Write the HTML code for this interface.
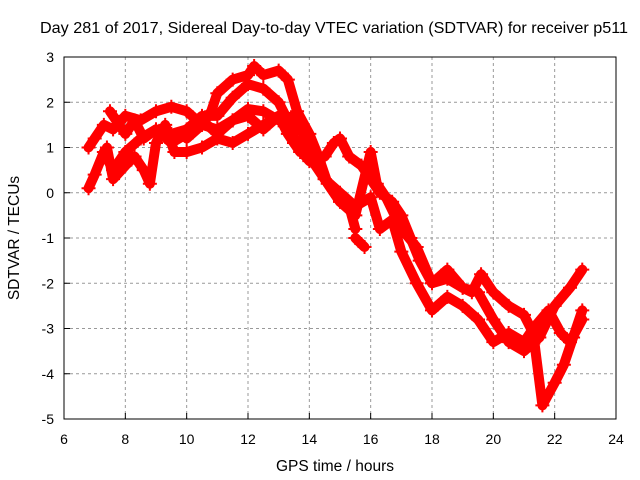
<!DOCTYPE html>
<html><head><meta charset="utf-8"><style>
body{margin:0;background:#fff}
svg{display:block;font-family:"Liberation Sans",sans-serif}
</style></head><body>
<svg id="chart" width="640" height="480" xmlns="http://www.w3.org/2000/svg">
<text x="334" y="33" font-size="16" text-anchor="middle" textLength="588" lengthAdjust="spacingAndGlyphs">Day 281 of 2017, Sidereal Day-to-day VTEC variation (SDTVAR) for receiver p511</text>
<text x="335" y="471" font-size="15.5" text-anchor="middle">GPS time / hours</text>
<text transform="translate(19,238) rotate(-90)" font-size="15.5" text-anchor="middle">SDTVAR / TECUs</text>
<g id="grid"></g>
<g id="ticks" font-size="14"></g>
<g id="series"></g>
<rect x="64" y="57" width="552" height="362" fill="none" stroke="#000" stroke-width="1"/>
</svg>
<script>
const xTicks=[6,8,10,12,14,16,18,20,22,24];
const yTicks=[3,2,1,0,-1,-2,-3,-4,-5];
const trackA=[[6.8,1.0],[7.0,1.2],[7.3,1.5],[7.6,1.4],[8,1.7],[8.5,1.6],[9,1.8],[9.5,1.9],[10,1.8],[10.5,1.5],[11,1.4],[11.5,1.6],[12,1.85],[12.5,1.8],[13,1.6],[13.5,1.7],[14,1.0],[14.5,0.3],[15,-0.2],[15.5,-0.5],[16,0.9],[16.2,0.2],[16.5,-0.1],[17,-0.8],[17.5,-1.2],[18,-2],[18.5,-1.7],[19,-2.1],[19.5,-2.2],[20,-2.8],[20.5,-3.3],[21,-3.5],[21.5,-3.2],[22,-2.5],[22.5,-2.1],[22.9,-1.7]];
const trackB=[[10,1.2],[10.5,1.5],[10.8,1.8],[11,2.2],[11.5,2.5],[12,2.6],[12.2,2.8],[12.5,2.6],[13,2.7],[13.3,2.5],[13.6,1.8],[14,1.3],[14.3,0.8],[14.6,0.2],[15,-0.2],[15.3,-0.3],[15.5,-0.8]];
const trackC=[[6.8,0.1],[7,0.4],[7.3,0.9],[7.6,0.5],[8,0.9],[8.5,1.2],[9,1.4],[9.5,1.3],[10,1.4],[10.5,1.7],[11,1.7],[11.5,2.1],[12,2.4],[12.5,2.3],[13,2.0],[13.3,1.6],[13.5,1.2],[14,0.8],[14.5,0.3],[15,0.0],[15.5,-0.3],[16,-0.1],[16.3,-0.8],[16.7,-0.6],[17,-1.3],[17.5,-2.0],[18,-2.6],[18.5,-2.3],[19,-2.5],[19.5,-2.8],[20,-3.3],[20.5,-3.1],[21,-3.3],[21.3,-3.0],[21.8,-2.6],[22.2,-3.1],[22.5,-3.3],[22.9,-2.8]];
const trackD=[[7.4,1.0],[7.6,0.3],[8,0.6],[8.3,0.8],[8.6,0.5],[8.8,0.2],[9,1.1],[9.3,1.5],[9.6,0.9],[10,0.9],[10.5,1.0],[11,1.2],[11.5,1.1],[12,1.3],[12.5,1.5],[13,1.7],[13.3,1.3],[13.7,0.9]];
const trackE=[[7.5,1.8],[8,1.3],[8.3,1.6],[8.6,1.2],[9,1.4],[9.5,1.1],[10,1.3],[10.5,1.6],[11,1.3],[11.5,1.6],[12,1.7],[12.5,1.4],[13,1.7],[13.5,1.1],[14,0.7],[14.5,0.8],[14.8,1.1],[15,1.2],[15.3,0.8],[15.7,0.6],[16,0.3],[16.3,0.0],[16.7,-0.2],[17,-0.5],[17.3,-1.0],[17.6,-1.5],[18,-2.0],[18.5,-1.9],[19,-2.1],[19.3,-2.2],[19.6,-1.8],[20,-2.2],[20.5,-2.5],[21,-2.7],[21.3,-3.1],[21.6,-4.7],[22,-4.2],[22.3,-3.8],[22.6,-3.2],[22.9,-2.6]];
const trackF=[[15.5,-1.0],[15.8,-1.2]];
const tracks=[trackA,trackB,trackC,trackD,trackE,trackF];

const NS="http://www.w3.org/2000/svg";
const X0=64,X1=616,Y0=419,Y1=57;
function sx(h){return X0+(h-6)/(24-6)*(X1-X0);}
function sy(v){return Y0-(v+5)/8*(Y0-Y1);}
const grid=document.getElementById('grid'),ticks=document.getElementById('ticks'),series=document.getElementById('series');
function mk(tag,attrs,parent){const e=document.createElementNS(NS,tag);for(const k in attrs)e.setAttribute(k,attrs[k]);parent.appendChild(e);return e;}
xTicks.forEach(t=>{
  const x=sx(t);
  if(t>6&&t<24){const l=mk('line',{x1:x,x2:x,y1:Y1,y2:Y0,stroke:'#999','stroke-dasharray':'3,3'},grid);
  
  }
  const tk=mk('line',{x1:x,x2:x,y1:Y0,y2:Y0-6,stroke:'#000'},grid);
  
  
  const tx=mk('text',{x:x,y:Y0+25,'text-anchor':'middle'},ticks);tx.textContent=t;
  
  
});
yTicks.forEach(t=>{
  const y=sy(t);
  if(t>-5&&t<3){const l=mk('line',{x1:X0,x2:X1,y1:y,y2:y,stroke:'#999','stroke-dasharray':'3,3'},grid);
  
  }
  const tk=mk('line',{x1:X0,x2:X0+6,y1:y,y2:y,stroke:'#000'},grid);
  
  
  const tx=mk('text',{x:X0-10,y:y+5,'text-anchor':'end'},ticks);tx.textContent=t;
  
  
});
tracks.forEach((tr,i)=>{
  const g=mk('g',{},series);
  
  
  const pl=mk('polyline',{points:tr.map(p=>sx(p[0])+','+sy(p[1])).join(' '),fill:'none',stroke:'#f00','stroke-width':10,'stroke-linejoin':'round','stroke-linecap':'round'},g);
  
  
  tr.forEach(p=>{
    const x=sx(p[0]),y=sy(p[1]);
    const m=mk('path',{d:`M${x-7},${y}H${x+7}M${x},${y-7}V${y+7}`,stroke:'#f00','stroke-width':2},g);
    
    
  });
});
</script>
</body></html>
